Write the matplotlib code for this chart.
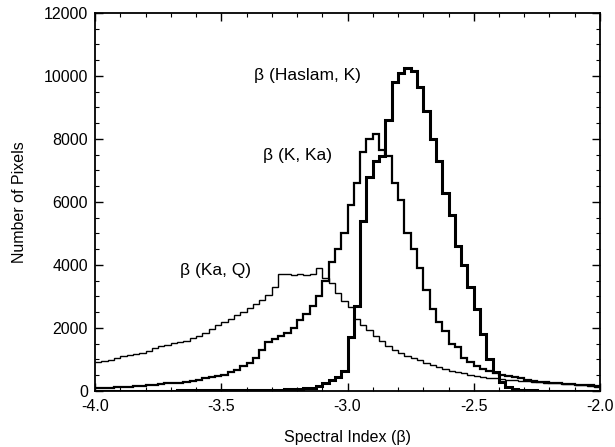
import numpy as np
import matplotlib
matplotlib.use("Agg")
import matplotlib.pyplot as plt
from matplotlib.ticker import MultipleLocator

# --- dati: istogrammi (bin da 0.025 tra -4.0 e -2.0) ---
bin_lo, bin_hi, n_bins = -4.0, -2.0, 80

beta_ka_q = [930, 960, 990, 1050, 1100, 1130, 1170, 1220, 1280, 1350,
             1420, 1470, 1520, 1550, 1600, 1680, 1730, 1850, 1980, 2080,
             2200, 2300, 2400, 2520, 2650, 2750, 2900, 3050, 3300, 3700,
             3700, 3680, 3700, 3680, 3720, 3900, 3600, 3430, 3110, 2850,
             2670, 2300, 2100, 1940, 1750, 1600, 1420, 1300, 1200, 1100,
             1050, 980, 900, 820, 760, 710, 650, 600, 560, 520,
             460, 440, 420, 410, 390, 360, 350, 330, 310, 290,
             280, 260, 250, 240, 230, 210, 200, 190, 170, 140]

beta_k_ka = [90, 100, 110, 120, 130, 140, 150, 160, 180, 200,
             230, 250, 250, 260, 290, 330, 360, 400, 440, 480,
             520, 600, 680, 780, 900, 1050, 1300, 1550, 1650, 1750,
             1850, 2000, 2250, 2450, 2700, 3000, 3500, 4100, 4500, 5000,
             5900, 6600, 7600, 8000, 8150, 7650, 7450, 6600, 6050, 5000,
             4500, 3900, 3200, 2600, 2200, 1900, 1500, 1400, 1050, 920,
             780, 700, 620, 570, 520, 470, 430, 400, 360, 330,
             300, 280, 260, 240, 230, 210, 200, 190, 180, 170]

beta_haslam_k = [10, 10, 10, 10, 10, 10, 10, 10, 15, 15,
                 15, 15, 15, 20, 20, 20, 20, 20, 25, 25,
                 25, 25, 30, 30, 30, 35, 35, 40, 40, 45,
                 50, 55, 60, 80, 100, 150, 250, 350, 450, 650,
                 1700, 2700, 5400, 6800, 7300, 7450, 8600, 9800, 10100, 10250,
                 10150, 9650, 8900, 8000, 7300, 6300, 5600, 4600, 4000, 3300,
                 2600, 1800, 1000, 600, 300, 120, 50, 30, 20, 20,
                 15, 15, 15, 10, 10, 10, 10, 10, 10, 10]

edges = np.linspace(bin_lo, bin_hi, n_bins + 1)

plt.rcParams['font.family'] = ['Liberation Sans', 'DejaVu Sans']

fig = plt.figure(figsize=(6.15, 4.47), dpi=100)
ax = fig.add_axes([0.1545, 0.1253, 0.8211, 0.8457])

ax.stairs(beta_ka_q, edges, baseline=None, color='black', lw=1.0)
ax.stairs(beta_k_ka, edges, baseline=None, color='black', lw=1.6)
ax.stairs(beta_haslam_k, edges, baseline=None, color='black', lw=2.2)

ax.set_xlim(-4.0, -2.0)
ax.set_ylim(0, 12000)
ax.xaxis.set_major_locator(MultipleLocator(0.5))
ax.xaxis.set_minor_locator(MultipleLocator(0.1))
ax.yaxis.set_major_locator(MultipleLocator(2000))
ax.yaxis.set_minor_locator(MultipleLocator(500))
ax.xaxis.set_major_formatter(matplotlib.ticker.FormatStrFormatter('%.1f'))
ax.tick_params(which='both', direction='in', top=True, right=True,
               labelsize=11.5, colors='black')
ax.tick_params(which='major', length=6, width=1.0)
ax.tick_params(which='minor', length=3, width=0.8)
ax.tick_params(axis='x', which='major', pad=6)
ax.tick_params(axis='y', which='major', pad=5)
for s in ax.spines.values():
    s.set_linewidth(1.3)

ax.set_xlabel('Spectral Index (β)', fontsize=11.5, labelpad=11)
ax.set_ylabel('Number of Pixels', fontsize=11.5, labelpad=12)

ax.text(-3.37, 10030, 'β (Haslam, K)', fontsize=12.5, va='center')
ax.text(-3.335, 7490, 'β (K, Ka)', fontsize=12.5, va='center')
ax.text(-3.663, 3840, 'β (Ka, Q)', fontsize=12.5, va='center')

fig.savefig('out.png', dpi=100)
